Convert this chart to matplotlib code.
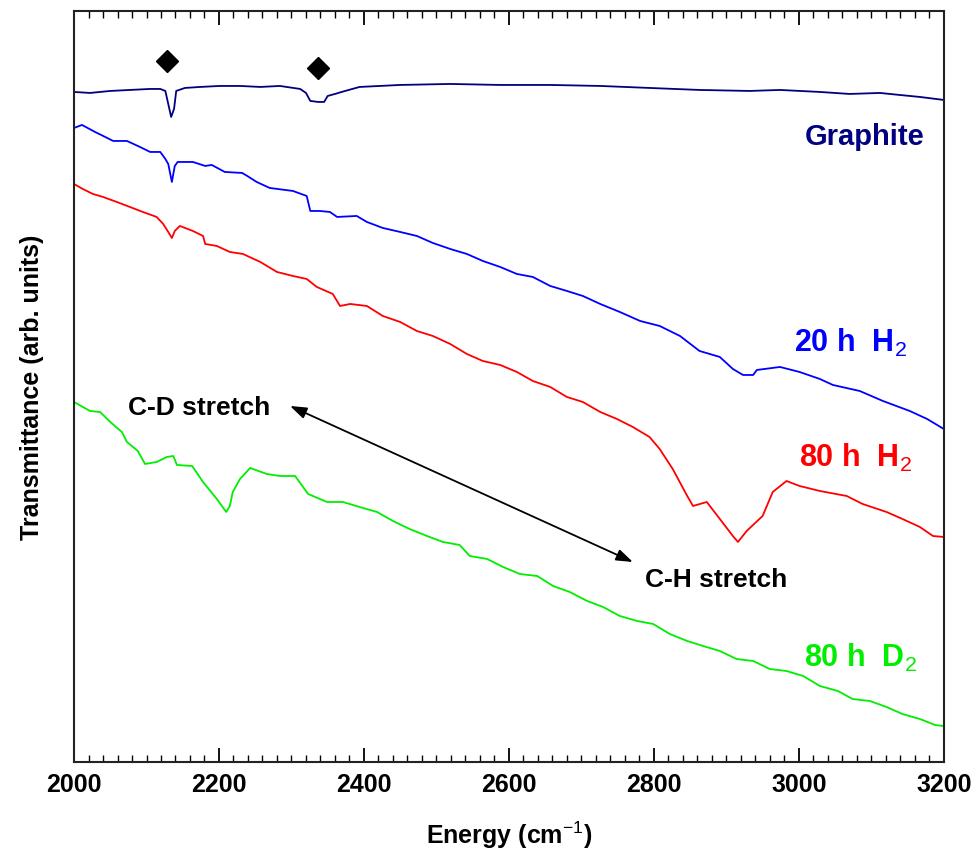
import matplotlib
matplotlib.use("Agg")
import matplotlib.pyplot as plt
from matplotlib.ticker import MultipleLocator

plt.rcParams['font.family'] = ['Liberation Sans', 'DejaVu Sans']
plt.rcParams['mathtext.fontset'] = 'custom'
plt.rcParams['mathtext.rm'] = 'Liberation Sans'

# IR transmittance spectra, energy in cm^-1, transmittance in arbitrary units
e_graphite = [2000, 2022, 2050, 2077, 2105, 2119, 2126, 2130, 2134, 2138,
              2141, 2153, 2174, 2201, 2229, 2257, 2284, 2312, 2320, 2326,
              2337, 2345, 2350, 2360, 2374, 2394, 2422, 2450, 2519, 2588,
              2657, 2726, 2794, 2863, 2932, 2974, 3029, 3070, 3112, 3139,
              3167, 3200]
t_graphite = [670, 669, 671, 672, 673, 673, 671, 658, 645, 653,
              671, 674, 675, 676, 676, 675, 676, 673, 669, 661,
              660, 660, 666, 668, 671, 675, 676, 677, 678, 677,
              677, 676, 674, 672, 671, 672, 670, 668, 669, 667,
              665, 662]

e_20h_h2 = [2000, 2011, 2029, 2043, 2054, 2073, 2091, 2105, 2119, 2126,
            2130, 2135, 2139, 2143, 2164, 2181, 2190, 2208, 2232, 2239,
            2252, 2270, 2302, 2321, 2326, 2339, 2353, 2363, 2390, 2404,
            2426, 2450, 2473, 2495, 2519, 2542, 2564, 2588, 2611, 2633,
            2657, 2680, 2702, 2726, 2753, 2781, 2808, 2836, 2863, 2891,
            2909, 2923, 2937, 2942, 2974, 3001, 3029, 3047, 3084, 3116,
            3153, 3177, 3200]
t_20h_h2 = [634, 637, 630, 625, 621, 621, 615, 610, 610, 603,
            598, 580, 596, 600, 600, 596, 597, 590, 589, 586,
            580, 574, 571, 566, 551, 551, 550, 545, 546, 540,
            534, 530, 526, 519, 513, 508, 501, 495, 488, 485,
            476, 471, 466, 458, 450, 441, 436, 426, 411, 405,
            393, 387, 387, 392, 395, 390, 383, 377, 371, 361,
            351, 343, 333]

e_80h_h2 = [2000, 2012, 2026, 2040, 2059, 2077, 2095, 2114, 2123, 2130,
            2135, 2139, 2146, 2164, 2178, 2181, 2197, 2215, 2233, 2257,
            2280, 2302, 2321, 2335, 2357, 2367, 2381, 2404, 2426, 2450,
            2473, 2495, 2519, 2542, 2564, 2588, 2611, 2633, 2657, 2680,
            2702, 2726, 2749, 2771, 2794, 2808, 2826, 2846, 2854, 2873,
            2891, 2909, 2916, 2928, 2950, 2964, 2983, 3001, 3029, 3066,
            3088, 3121, 3143, 3167, 3185, 3200]
t_80h_h2 = [578, 573, 568, 565, 560, 555, 550, 545, 538, 530,
            524, 531, 536, 531, 526, 518, 516, 510, 508, 500,
            490, 486, 483, 475, 468, 456, 458, 456, 446, 440,
            431, 426, 418, 408, 401, 397, 390, 381, 375, 365,
            360, 350, 343, 335, 325, 313, 293, 266, 256, 260,
            243, 226, 220, 231, 246, 270, 281, 276, 271, 266,
            258, 250, 243, 235, 226, 225]

e_80h_d2 = [2000, 2022, 2036, 2050, 2066, 2073, 2088, 2098, 2114, 2128,
            2137, 2142, 2163, 2178, 2197, 2210, 2215, 2219, 2229, 2243,
            2266, 2284, 2305, 2323, 2349, 2371, 2394, 2418, 2440, 2463,
            2487, 2509, 2532, 2546, 2570, 2592, 2615, 2639, 2661, 2684,
            2708, 2730, 2753, 2777, 2799, 2822, 2846, 2868, 2891, 2914,
            2937, 2960, 2983, 3006, 3029, 3054, 3074, 3098, 3121, 3143,
            3167, 3188, 3200]
t_80h_d2 = [360, 351, 350, 340, 330, 320, 311, 298, 300, 305,
            306, 297, 296, 280, 263, 250, 256, 270, 283, 294,
            288, 286, 286, 268, 260, 260, 255, 250, 241, 233,
            226, 220, 217, 206, 203, 195, 188, 186, 176, 170,
            161, 155, 146, 141, 138, 128, 121, 116, 111, 103,
            101, 93, 91, 86, 76, 71, 63, 61, 55, 48,
            43, 37, 36]

# graphite peak markers
e_marks = [2128, 2337]
t_marks = [701, 694]

fig = plt.figure(figsize=(9.74, 8.53), dpi=100)
ax = fig.add_axes([0.076, 0.1055, 0.893, 0.8805])

ax.plot(e_graphite, t_graphite, color='#000080', lw=1.3)
ax.plot(e_20h_h2, t_20h_h2, color='#0000FF', lw=1.3)
ax.plot(e_80h_h2, t_80h_h2, color='#FF0000', lw=1.3)
ax.plot(e_80h_d2, t_80h_d2, color='#00EE00', lw=1.3)
ax.plot(e_marks, t_marks, 'D', color='black', ms=11, ls='none')

bold = dict(fontweight='bold', va='baseline')
ax.text(3174, 618, 'Graphite', color='#000080', fontsize=21, ha='right', **bold)
ax.text(3149, 411, r'20 h  H$_\mathrm{2}$', color='#0000FF', fontsize=22, ha='right', **bold)
ax.text(3157, 296, r'80 h  H$_\mathrm{2}$', color='#FF0000', fontsize=22, ha='right', **bold)
ax.text(3163, 96, r'80 h  D$_\mathrm{2}$', color='#00EE00', fontsize=22, ha='right', **bold)
ax.text(2074, 348, 'C-D stretch', color='black', fontsize=19, ha='left', **bold)
ax.text(2788, 176, 'C-H stretch', color='black', fontsize=19, ha='left', **bold)
ax.annotate('', xy=(2298, 356), xytext=(2771, 200),
            arrowprops=dict(arrowstyle='<|-|>,head_length=1.0,head_width=0.35',
                            color='black', lw=1.3, shrinkA=0, shrinkB=0))

ax.set_xlim(2000, 3200)
ax.set_ylim(0, 751)
ax.set_yticks([])
ax.xaxis.set_major_locator(MultipleLocator(200))
ax.xaxis.set_minor_locator(MultipleLocator(20))
ax.tick_params(axis='x', which='both', direction='in', top=True, labelsize=18, pad=7)
ax.tick_params(axis='x', which='major', length=10, width=1.3)
ax.tick_params(axis='x', which='minor', length=5, width=1.0)
for lbl in ax.get_xticklabels():
    lbl.set_fontweight('bold')
for s in ax.spines.values():
    s.set_linewidth(1.5)
    s.set_color('#222222')

ax.set_xlabel(r'Energy (cm$^\mathrm{-1}$)', fontsize=18, fontweight='bold')
ax.set_ylabel('Transmittance (arb. units)', fontsize=18, fontweight='bold')
ax.xaxis.set_label_coords(0.5, -0.075)
ax.yaxis.set_label_coords(-0.035, 0.5)

fig.savefig('out.png', dpi=100)
